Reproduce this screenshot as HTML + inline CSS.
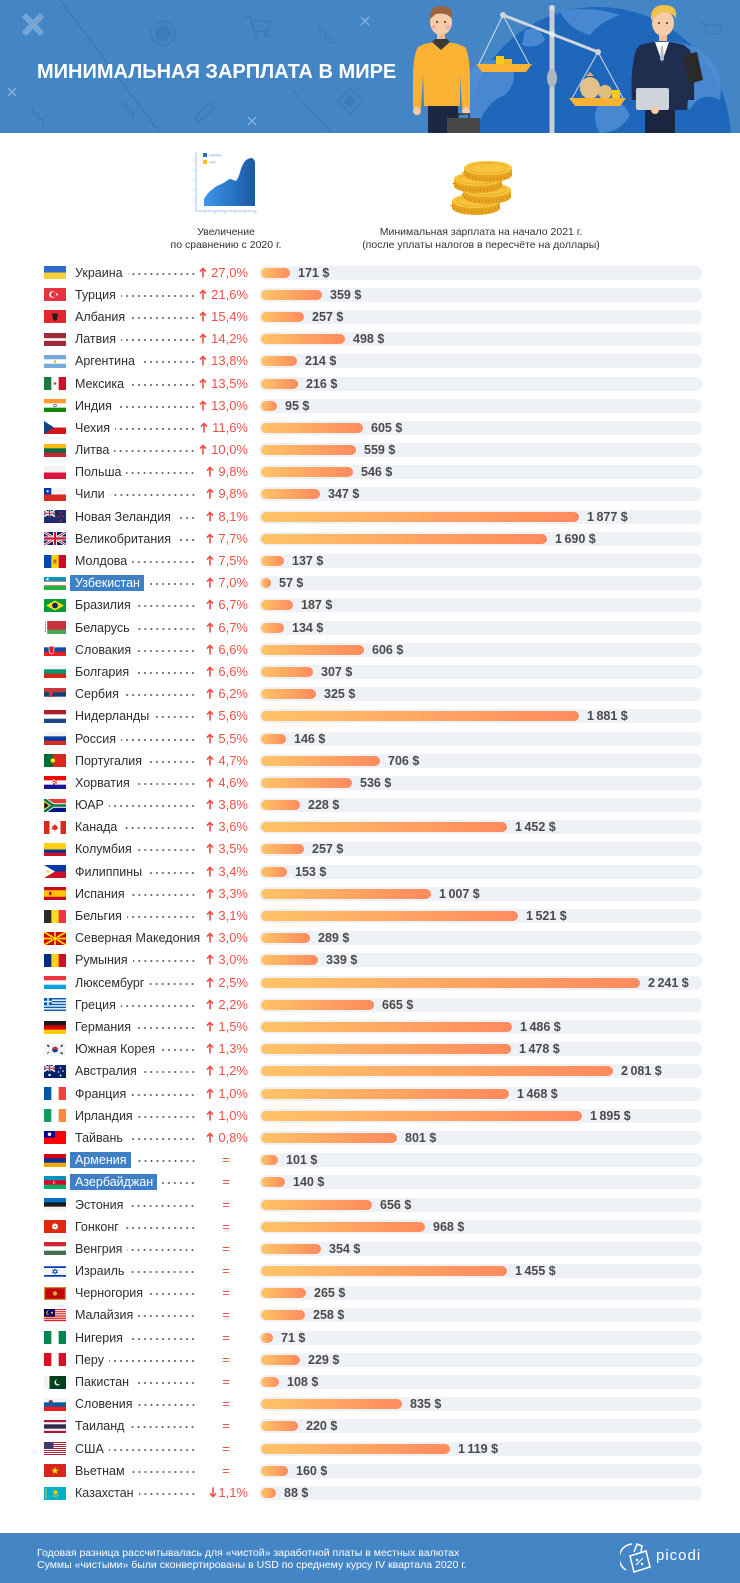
<!DOCTYPE html>
<html><head><meta charset="utf-8">
<style>
*{box-sizing:border-box}
body{margin:0;width:740px;height:1583px;position:relative;background:#fff;font-family:"Liberation Sans",Arial,sans-serif;overflow:hidden}
.r{position:absolute;left:0;width:740px;height:22px}
.f{position:absolute;left:44px;top:4.5px;width:22px;height:13px}
.n{position:absolute;left:75px;width:121px;top:0;height:22px;display:flex;align-items:center;font-size:12.5px;color:#2e2e2e;white-space:nowrap}
.n b{flex:1;height:22px;margin-left:5px;background:radial-gradient(circle at 3px 12px,#6a6a6a 0.8px,transparent 1.25px) right top/6px 22px repeat-x}
.n i{font-style:normal;background:#3f7fc6;color:#fff;padding:1px 4px 1px 5px;margin-left:-5px;line-height:14px}
.p{position:absolute;right:492px;top:0;line-height:22px;font-size:13px;color:#ef4f45;white-space:nowrap}
.p svg{width:8px;height:11px;margin-right:4px;vertical-align:-1px}
.e{position:absolute;left:216px;width:20px;top:0;line-height:22px;text-align:center;font-size:13px;color:#ef4f45}
.t{position:absolute;left:259px;top:4px;width:443px;height:14px;border-radius:7px;background:#eef1f5}
.b{position:absolute;left:261px;top:6px;height:10px;border-radius:5px;background:linear-gradient(90deg,#ffc467,#ff8a5e)}
.v{position:absolute;top:0;line-height:22px;font-size:12.5px;font-weight:bold;color:#4a4a4a;white-space:nowrap}
.sub{position:absolute;top:226px;font-size:10.5px;line-height:13px;color:#333;text-align:center}
</style></head><body>

<svg width="0" height="0" style="position:absolute">
<defs>
<symbol id="up" viewBox="0 0 8 11"><path d="M4 10.5V1.6M1 4.6L4 1.4L7 4.6" stroke="#ef4f45" stroke-width="1.6" fill="none"/></symbol>
<symbol id="dn" viewBox="0 0 8 11"><path d="M4 0.5V9.4M1 6.4L4 9.6L7 6.4" stroke="#ef4f45" stroke-width="1.6" fill="none"/></symbol>
<linearGradient id="cg" x1="0" x2="1" y1="0" y2="0"><stop offset="0" stop-color="#3d97ea"/><stop offset="1" stop-color="#1a58a3"/></linearGradient>
</defs>
</svg>

<!-- HEADER -->
<svg width="740" height="133" style="position:absolute;left:0;top:0;overflow:hidden">
<rect width="740" height="133" fill="#4485c5"/>
<g fill="none" stroke="#2f6aa8" stroke-opacity=".4" stroke-width="1.2">
<line x1="60" y1="0" x2="160" y2="133"/>
<line x1="292" y1="90" x2="332" y2="133"/>
<path d="M245 17h5l4 14h14l3-10h-19"/><circle cx="256" cy="35" r="1.5"/><circle cx="266" cy="35" r="1.5"/>
<path d="M320 25v6h5v6h5v6h5"/><path d="M33 107v6h5v6h5v6"/><path d="M123 100v6h5v6h5v6"/>
<path d="M195 118l12-14h6v6l-14 12z"/>
<path d="M350 88l13 13-13 13-13-13z"/>
<circle cx="163" cy="33" r="12"/>
<path d="M700 22h4l3 12h12l3-9h-17"/>
</g>
<path d="M350 94l7 7-7 7-7-7z" fill="#2f6aa8" fill-opacity=".3"/>
<circle cx="163" cy="33" r="8" fill="#2f6aa8" fill-opacity=".3"/>
<g stroke="#a6c6e8" stroke-opacity=".7" stroke-width="1.3">
<path d="M361 17l8 8M369 17l-8 8M8 88l8 8M16 88l-8 8M248 117l8 8M256 117l-8 8"/>
</g>
<path d="M24 15L42 34M42 15L24 34" stroke="#9fbfe3" stroke-opacity=".55" stroke-width="6"/>
<!-- globe -->
<circle cx="598" cy="140" r="133" fill="#1f67bb"/>
<g fill="#4f8ed5" fill-opacity=".85">
<path d="M470 70Q490 55 510 62Q520 80 505 95Q490 100 480 120L472 133L466 133Q462 100 470 70Z"/>
<path d="M560 12Q590 5 620 15Q600 22 590 35Q570 30 560 12Z"/>
<path d="M640 45Q670 35 700 50Q725 70 720 100Q700 90 690 110Q670 95 660 70Q645 60 640 45Z"/>
<path d="M600 100Q620 95 630 115Q620 133 600 133Q590 118 600 100Z"/>
<path d="M525 30Q540 25 545 40Q535 50 522 45Z"/>
</g>
<!-- man 1 -->
<rect x="428" y="100" width="30" height="33" fill="#1c2744"/>
<path d="M424 44Q441 40 458 44L465 47Q470 55 470 80L470 108L462 108L460 75L460 106L424 106L423 75L421 108L413 108L413 80Q413 55 418 47Z" fill="#f9b233"/>
<rect x="437" y="32" width="8" height="10" fill="#f0bd98"/>
<path d="M432 42L441 50L450 42L447 39L435 39Z" fill="#3a3a3a"/>
<ellipse cx="441" cy="22" rx="11" ry="13" fill="#f6cba9"/>
<path d="M430 19Q429 6 441 6Q454 6 452 19Q447 12 436 14Z" fill="#9a6440"/>
<circle cx="437" cy="22" r="1" fill="#333"/><circle cx="445" cy="22" r="1" fill="#333"/>
<circle cx="434" cy="27" r="2" fill="#f3a0a0" fill-opacity=".7"/><circle cx="448" cy="27" r="2" fill="#f3a0a0" fill-opacity=".7"/>
<circle cx="417" cy="111" r="4" fill="#f6cba9"/><circle cx="466" cy="111" r="4" fill="#f6cba9"/>
<path d="M458 118v-4h11v4" stroke="#333" stroke-width="1.5" fill="none"/>
<rect x="447" y="118" width="33" height="15" rx="1" fill="#474747"/>
<!-- scale -->
<rect x="549.5" y="8" width="5" height="125" fill="#c5ccd6"/>
<ellipse cx="552" cy="78" rx="5" ry="9" fill="#aeb6c2"/>
<circle cx="552" cy="8" r="3" fill="#d5dae1"/>
<line x1="503" y1="15" x2="598" y2="52" stroke="#d2d7de" stroke-width="3"/>
<circle cx="552" cy="34" r="3" fill="#e6e9ee"/>
<path d="M503 15L478 66M503 15L530 66M598 52L571 100M598 52L624 100" stroke="#dde2e8" stroke-width=".9"/>
<circle cx="503" cy="15" r="3" fill="#cfd5dd"/><circle cx="598" cy="52" r="3" fill="#cfd5dd"/>
<rect x="496" y="56" width="8" height="10" fill="#f7c81e"/><rect x="504" y="59" width="8" height="7" fill="#f3b616"/>
<path d="M476 64h56l-6 8h-44z" fill="#f9b233"/>
<ellipse cx="590" cy="88" rx="10" ry="11" fill="#e5c18a"/><path d="M586 76l4-4 4 4z" fill="#d9b070"/>
<ellipse cx="605" cy="92" rx="7" ry="7" fill="#e2bb80"/>
<rect x="612" y="90" width="8" height="9" fill="#f7c81e"/>
<path d="M569 98h57l-6 8h-45z" fill="#f9b233"/>
<!-- man 2 -->
<rect x="645" y="105" width="30" height="28" fill="#1b2540"/>
<path d="M640 45Q662 38 684 45L690 50Q695 70 694 100L688 100L687 110L640 110L638 100L632 100Q630 70 636 50Z" fill="#1f2d4f"/>
<path d="M655 42L662 62L669 42Z" fill="#fff"/><path d="M661 46h2l1 14h-4z" fill="#b9bec6"/>
<rect x="659" y="31" width="8" height="10" fill="#f0bd98"/>
<ellipse cx="663" cy="23" rx="11" ry="13" fill="#f6cba9"/>
<path d="M651 20Q650 5 664 5Q678 5 676 18Q670 10 660 13Z" fill="#f0c14b"/>
<circle cx="659" cy="23" r="1" fill="#333"/><circle cx="667" cy="23" r="1" fill="#333"/>
<path d="M683 55L697 52L703 80L689 84Z" fill="#2a2a2a"/>
<rect x="636" y="88" width="33" height="22" rx="2" fill="#cfd4da"/>
<circle cx="655" cy="110" r="4" fill="#f6cba9"/>
</svg>

<!-- ICONS -->
<svg width="740" height="90" viewBox="0 133 740 90" style="position:absolute;left:0;top:133px">
<rect x="203" y="153" width="4" height="4" fill="#2a6fc0"/><rect x="209" y="154" width="13" height="2.5" rx="1" fill="#cfe0f5"/>
<rect x="203" y="160" width="4" height="4" fill="#f8c21c"/><rect x="209" y="161" width="7" height="2.5" rx="1" fill="#cfe0f5"/>
<path d="M196 152V211H257" stroke="#c5daf2" stroke-width="1.5" fill="none"/>
<path d="M193 160h3M193 170h3M193 180h3M193 190h3M193 200h3M205 211v3M215 211v3M225 211v3M235 211v3M245 211v3M255 211v3" stroke="#c5daf2" stroke-width="1"/>
<path d="M204 206L204 199Q208 192 213 189Q216 186 219 185Q222 184 225 182L228 180Q230 178 233 180L236 181Q239 177 240 172Q242 165 245 161Q248 158 252 158Q254 159 255 162L255 206Z" fill="url(#cg)"/>
<g>
<path d="M452 201v7a24 7 0 0 0 48 0v-7z" fill="#e8a620"/><path d="M452 205a24 7 0 0 0 48 0" stroke="#d4851a" stroke-width="3" stroke-dasharray="1 2.5" fill="none"/><ellipse cx="476" cy="201" rx="24" ry="7" fill="#f8c53a"/><ellipse cx="476" cy="201" rx="19" ry="5" fill="none" stroke="#e9ae2c"/>
<path d="M463 190v7a24 7 0 0 0 48 0v-7z" fill="#e8a620"/><path d="M463 194a24 7 0 0 0 48 0" stroke="#d4851a" stroke-width="3" stroke-dasharray="1 2.5" fill="none"/><ellipse cx="487" cy="190" rx="24" ry="7" fill="#f8c53a"/><ellipse cx="487" cy="190" rx="19" ry="5" fill="none" stroke="#e9ae2c"/>
<path d="M454 179v7a24 7 0 0 0 48 0v-7z" fill="#e8a620"/><path d="M454 183a24 7 0 0 0 48 0" stroke="#d4851a" stroke-width="3" stroke-dasharray="1 2.5" fill="none"/><ellipse cx="478" cy="179" rx="24" ry="7" fill="#f8c53a"/><ellipse cx="478" cy="179" rx="19" ry="5" fill="none" stroke="#e9ae2c"/>
<path d="M464 168v7a24 7 0 0 0 48 0v-7z" fill="#e8a620"/><path d="M464 172a24 7 0 0 0 48 0" stroke="#d4851a" stroke-width="3" stroke-dasharray="1 2.5" fill="none"/><ellipse cx="488" cy="168" rx="24" ry="7" fill="#f8c53a"/><ellipse cx="488" cy="168" rx="19" ry="5" fill="none" stroke="#e9ae2c"/>
</g>
</svg>

<div style="position:absolute;left:37px;top:60px;font:bold 20px/24px 'Liberation Sans',Arial,sans-serif;color:#fff;white-space:nowrap">МИНИМАЛЬНАЯ ЗАРПЛАТА В МИРЕ</div>
<div class="sub" style="left:126px;width:200px">Увеличение<br>по сравнению с 2020 г.</div>
<div class="sub" style="left:331px;width:300px">Минимальная зарплата на начало 2021 г.<br>(после уплаты налогов в пересчёте на доллары)</div>

<!-- ROWS -->
<div class="r" style="top:261.5px"><svg class="f" viewBox="0 0 22 13"><rect width="22" height="13" fill="#f5d033"/><rect width="22" height="6.5" fill="#2f6bd0"/></svg><div class="n">Украина<b></b></div><div class="p"><svg><use href="#up"/></svg>27,0%</div><div class="t"></div><div class="b" style="width:29px"></div><div class="v" style="left:298px">171 $</div></div>

<div class="r" style="top:283.7px"><svg class="f" viewBox="0 0 22 13"><rect width="22" height="13" fill="#e4343f"/><circle cx="8.5" cy="6.5" r="3.3" fill="#fff"/><circle cx="9.4" cy="6.5" r="2.6" fill="#e4343f"/><circle cx="12.8" cy="6.5" r="1" fill="#fff"/></svg><div class="n">Турция<b></b></div><div class="p"><svg><use href="#up"/></svg>21,6%</div><div class="t"></div><div class="b" style="width:61px"></div><div class="v" style="left:330px">359 $</div></div>

<div class="r" style="top:305.9px"><svg class="f" viewBox="0 0 22 13"><rect width="22" height="13" fill="#e3262d"/><path d="M8 3.5h6l-1 6l-2 1.5l-2-1.5z" fill="#1e1e1e"/></svg><div class="n">Албания<b></b></div><div class="p"><svg><use href="#up"/></svg>15,4%</div><div class="t"></div><div class="b" style="width:43px"></div><div class="v" style="left:312px">257 $</div></div>

<div class="r" style="top:328.1px"><svg class="f" viewBox="0 0 22 13"><rect width="22" height="13" fill="#9e2b37"/><rect y="5.2" width="22" height="2.6" fill="#fff"/></svg><div class="n">Латвия<b></b></div><div class="p"><svg><use href="#up"/></svg>14,2%</div><div class="t"></div><div class="b" style="width:84px"></div><div class="v" style="left:353px">498 $</div></div>

<div class="r" style="top:350.3px"><svg class="f" viewBox="0 0 22 13"><rect width="22" height="13" fill="#75aadb"/><rect y="4.33" width="22" height="4.34" fill="#fff"/><circle cx="11" cy="6.5" r="1.3" fill="#f6b40e"/></svg><div class="n">Аргентина<b></b></div><div class="p"><svg><use href="#up"/></svg>13,8%</div><div class="t"></div><div class="b" style="width:36px"></div><div class="v" style="left:305px">214 $</div></div>

<div class="r" style="top:372.5px"><svg class="f" viewBox="0 0 22 13"><rect width="22" height="13" fill="#ce1126"/><rect width="14.67" height="13" fill="#fff"/><rect width="7.33" height="13" fill="#1b7a40"/><circle cx="11" cy="6.5" r="1.4" fill="#9b6a3c"/></svg><div class="n">Мексика<b></b></div><div class="p"><svg><use href="#up"/></svg>13,5%</div><div class="t"></div><div class="b" style="width:37px"></div><div class="v" style="left:306px">216 $</div></div>

<div class="r" style="top:394.6px"><svg class="f" viewBox="0 0 22 13"><rect width="22" height="13" fill="#138808"/><rect width="22" height="8.67" fill="#fff"/><rect width="22" height="4.33" fill="#ff9933"/><circle cx="11" cy="6.5" r="1.4" fill="none" stroke="#000080" stroke-width=".5"/></svg><div class="n">Индия<b></b></div><div class="p"><svg><use href="#up"/></svg>13,0%</div><div class="t"></div><div class="b" style="width:16px"></div><div class="v" style="left:285px">95 $</div></div>

<div class="r" style="top:416.8px"><svg class="f" viewBox="0 0 22 13"><rect width="22" height="13" fill="#d7141a"/><rect width="22" height="6.5" fill="#fff"/><path d="M0 0L10 6.5L0 13z" fill="#11457e"/></svg><div class="n">Чехия<b></b></div><div class="p"><svg><use href="#up"/></svg>11,6%</div><div class="t"></div><div class="b" style="width:102px"></div><div class="v" style="left:371px">605 $</div></div>

<div class="r" style="top:439.0px"><svg class="f" viewBox="0 0 22 13"><rect width="22" height="13" fill="#c1272d"/><rect width="22" height="8.67" fill="#006a44"/><rect width="22" height="4.33" fill="#fdb913"/></svg><div class="n">Литва<b></b></div><div class="p"><svg><use href="#up"/></svg>10,0%</div><div class="t"></div><div class="b" style="width:95px"></div><div class="v" style="left:364px">559 $</div></div>

<div class="r" style="top:461.2px"><svg class="f" viewBox="0 0 22 13"><rect width="22" height="13" fill="#dc143c"/><rect width="22" height="6.5" fill="#f2f2f2"/></svg><div class="n">Польша<b></b></div><div class="p"><svg><use href="#up"/></svg>9,8%</div><div class="t"></div><div class="b" style="width:92px"></div><div class="v" style="left:361px">546 $</div></div>

<div class="r" style="top:483.4px"><svg class="f" viewBox="0 0 22 13"><rect width="22" height="13" fill="#d52b1e"/><rect width="22" height="6.5" fill="#f4f4f4"/><rect width="7.3" height="6.5" fill="#0039a6"/><circle cx="3.65" cy="3.25" r="1.1" fill="#fff"/></svg><div class="n">Чили<b></b></div><div class="p"><svg><use href="#up"/></svg>9,8%</div><div class="t"></div><div class="b" style="width:59px"></div><div class="v" style="left:328px">347 $</div></div>

<div class="r" style="top:505.6px"><svg class="f" viewBox="0 0 22 13"><rect width="22" height="13" fill="#1c2d6e"/><path d="M0 0L11 6.5M11 0L0 6.5" stroke="#fff" stroke-width="1.4"/><path d="M5.5 0v6.5M0 3.25h11" stroke="#fff" stroke-width="2"/><path d="M5.5 0v6.5M0 3.25h11" stroke="#c8102e" stroke-width="1"/><g fill="#d0243a"><circle cx="16.5" cy="3" r=".9"/><circle cx="19" cy="6" r=".9"/><circle cx="14.5" cy="7" r=".9"/><circle cx="16.5" cy="10.5" r="1"/></g></svg><div class="n">Новая Зеландия<b></b></div><div class="p"><svg><use href="#up"/></svg>8,1%</div><div class="t"></div><div class="b" style="width:318px"></div><div class="v" style="left:587px">1&thinsp;877 $</div></div>

<div class="r" style="top:527.8px"><svg class="f" viewBox="0 0 22 13"><rect width="22" height="13" fill="#012169"/><path d="M0 0L22 13M22 0L0 13" stroke="#fff" stroke-width="2.6"/><path d="M0 0L22 13M22 0L0 13" stroke="#c8102e" stroke-width=".9"/><path d="M11 0v13M0 6.5h22" stroke="#fff" stroke-width="4"/><path d="M11 0v13M0 6.5h22" stroke="#c8102e" stroke-width="2.2"/></svg><div class="n">Великобритания<b></b></div><div class="p"><svg><use href="#up"/></svg>7,7%</div><div class="t"></div><div class="b" style="width:286px"></div><div class="v" style="left:555px">1&thinsp;690 $</div></div>

<div class="r" style="top:550.0px"><svg class="f" viewBox="0 0 22 13"><rect width="22" height="13" fill="#cc092f"/><rect width="14.67" height="13" fill="#ffd200"/><rect width="7.33" height="13" fill="#0046ae"/><rect x="9.5" y="4.5" width="3" height="4" fill="#a8703b"/></svg><div class="n">Молдова<b></b></div><div class="p"><svg><use href="#up"/></svg>7,5%</div><div class="t"></div><div class="b" style="width:23px"></div><div class="v" style="left:292px">137 $</div></div>

<div class="r" style="top:572.2px"><svg class="f" viewBox="0 0 22 13"><rect width="22" height="13" fill="#1eb53a"/><rect width="22" height="8.67" fill="#fff"/><rect width="22" height="4.33" fill="#0099b5"/><rect y="4.1" width="22" height=".5" fill="#ce1126"/><rect y="8.4" width="22" height=".5" fill="#ce1126"/><circle cx="3.5" cy="2.2" r="1.2" fill="#fff"/></svg><div class="n"><i>Узбекистан</i><b></b></div><div class="p"><svg><use href="#up"/></svg>7,0%</div><div class="t"></div><div class="b" style="width:10px"></div><div class="v" style="left:279px">57 $</div></div>

<div class="r" style="top:594.4px"><svg class="f" viewBox="0 0 22 13"><rect width="22" height="13" fill="#009c3b"/><path d="M11 1.5L20 6.5L11 11.5L2 6.5z" fill="#ffdf00"/><circle cx="11" cy="6.5" r="2.9" fill="#002776"/></svg><div class="n">Бразилия<b></b></div><div class="p"><svg><use href="#up"/></svg>6,7%</div><div class="t"></div><div class="b" style="width:32px"></div><div class="v" style="left:301px">187 $</div></div>

<div class="r" style="top:616.5px"><svg class="f" viewBox="0 0 22 13"><rect width="22" height="13" fill="#4aa657"/><rect width="22" height="8.67" fill="#c8313e"/><rect width="3.2" height="13" fill="#fff"/><path d="M1.6 1v11" stroke="#c8313e" stroke-width="1" stroke-dasharray="1.2 1"/></svg><div class="n">Беларусь<b></b></div><div class="p"><svg><use href="#up"/></svg>6,7%</div><div class="t"></div><div class="b" style="width:23px"></div><div class="v" style="left:292px">134 $</div></div>

<div class="r" style="top:638.7px"><svg class="f" viewBox="0 0 22 13"><rect width="22" height="13" fill="#ee1c25"/><rect width="22" height="8.67" fill="#0b4ea2"/><rect width="22" height="4.33" fill="#fff"/><path d="M5 3.2h5v4.5q0 2.5-2.5 3.3q-2.5-.8-2.5-3.3z" fill="#ee1c25" stroke="#fff" stroke-width=".6"/></svg><div class="n">Словакия<b></b></div><div class="p"><svg><use href="#up"/></svg>6,6%</div><div class="t"></div><div class="b" style="width:103px"></div><div class="v" style="left:372px">606 $</div></div>

<div class="r" style="top:660.9px"><svg class="f" viewBox="0 0 22 13"><rect width="22" height="13" fill="#d62612"/><rect width="22" height="8.67" fill="#00966e"/><rect width="22" height="4.33" fill="#f4f4f4"/></svg><div class="n">Болгария<b></b></div><div class="p"><svg><use href="#up"/></svg>6,6%</div><div class="t"></div><div class="b" style="width:52px"></div><div class="v" style="left:321px">307 $</div></div>

<div class="r" style="top:683.1px"><svg class="f" viewBox="0 0 22 13"><rect width="22" height="13" fill="#f4f4f4"/><rect width="22" height="8.67" fill="#0c4076"/><rect width="22" height="4.33" fill="#c6363c"/><rect x="5" y="3" width="3.5" height="6" fill="#c6363c"/></svg><div class="n">Сербия<b></b></div><div class="p"><svg><use href="#up"/></svg>6,2%</div><div class="t"></div><div class="b" style="width:55px"></div><div class="v" style="left:324px">325 $</div></div>

<div class="r" style="top:705.3px"><svg class="f" viewBox="0 0 22 13"><rect width="22" height="13" fill="#21468b"/><rect width="22" height="8.67" fill="#fff"/><rect width="22" height="4.33" fill="#ae1c28"/></svg><div class="n">Нидерланды<b></b></div><div class="p"><svg><use href="#up"/></svg>5,6%</div><div class="t"></div><div class="b" style="width:318px"></div><div class="v" style="left:587px">1&thinsp;881 $</div></div>

<div class="r" style="top:727.5px"><svg class="f" viewBox="0 0 22 13"><rect width="22" height="13" fill="#d52b1e"/><rect width="22" height="8.67" fill="#0039a6"/><rect width="22" height="4.33" fill="#f4f4f4"/></svg><div class="n">Россия<b></b></div><div class="p"><svg><use href="#up"/></svg>5,5%</div><div class="t"></div><div class="b" style="width:25px"></div><div class="v" style="left:294px">146 $</div></div>

<div class="r" style="top:749.7px"><svg class="f" viewBox="0 0 22 13"><rect width="22" height="13" fill="#da291c"/><rect width="8.8" height="13" fill="#046a38"/><circle cx="8.8" cy="6.5" r="2.3" fill="#ffe000"/></svg><div class="n">Португалия<b></b></div><div class="p"><svg><use href="#up"/></svg>4,7%</div><div class="t"></div><div class="b" style="width:119px"></div><div class="v" style="left:388px">706 $</div></div>

<div class="r" style="top:771.9px"><svg class="f" viewBox="0 0 22 13"><rect width="22" height="13" fill="#171796"/><rect width="22" height="8.67" fill="#fff"/><rect width="22" height="4.33" fill="#ff0000"/><rect x="9" y="3.5" width="4" height="5" fill="#ff0000"/><path d="M9 3.5h2v1.25h-2zM11 4.75h2v1.25h-2zM9 6h2v1.25h-2zM11 7.25h2v1.25h-2z" fill="#fff"/></svg><div class="n">Хорватия<b></b></div><div class="p"><svg><use href="#up"/></svg>4,6%</div><div class="t"></div><div class="b" style="width:91px"></div><div class="v" style="left:360px">536 $</div></div>

<div class="r" style="top:794.1px"><svg class="f" viewBox="0 0 22 13"><rect width="22" height="13" fill="#001489"/><rect width="22" height="6.5" fill="#e03c31"/><path d="M0 0L9 6.5H22M9 6.5L0 13" stroke="#fff" stroke-width="4.4" fill="none"/><path d="M0 0L9 6.5H22M9 6.5L0 13" stroke="#007749" stroke-width="2.6" fill="none"/><path d="M0 2.6L5.4 6.5L0 10.4z" fill="#000" stroke="#ffb612" stroke-width=".8"/></svg><div class="n">ЮАР<b></b></div><div class="p"><svg><use href="#up"/></svg>3,8%</div><div class="t"></div><div class="b" style="width:39px"></div><div class="v" style="left:308px">228 $</div></div>

<div class="r" style="top:816.3px"><svg class="f" viewBox="0 0 22 13"><rect width="22" height="13" fill="#d52b1e"/><rect x="5.5" width="11" height="13" fill="#fff"/><path d="M11 3l1 2 1.5-.5-.5 2.5 1.2-.3-.7 1.5-2.5.8v1.5h-.4v-1.5l-2.5-.8-.7-1.5 1.2.3-.5-2.5 1.5.5z" fill="#d52b1e"/></svg><div class="n">Канада<b></b></div><div class="p"><svg><use href="#up"/></svg>3,6%</div><div class="t"></div><div class="b" style="width:246px"></div><div class="v" style="left:515px">1&thinsp;452 $</div></div>

<div class="r" style="top:838.4px"><svg class="f" viewBox="0 0 22 13"><rect width="22" height="13" fill="#ce1126"/><rect width="22" height="9.75" fill="#003893"/><rect width="22" height="6.5" fill="#fcd116"/></svg><div class="n">Колумбия<b></b></div><div class="p"><svg><use href="#up"/></svg>3,5%</div><div class="t"></div><div class="b" style="width:43px"></div><div class="v" style="left:312px">257 $</div></div>

<div class="r" style="top:860.6px"><svg class="f" viewBox="0 0 22 13"><rect width="22" height="13" fill="#ce1126"/><rect width="22" height="6.5" fill="#0038a8"/><path d="M0 0L11 6.5L0 13z" fill="#fff"/><circle cx="3.8" cy="6.5" r="1.3" fill="#fcd116"/></svg><div class="n">Филиппины<b></b></div><div class="p"><svg><use href="#up"/></svg>3,4%</div><div class="t"></div><div class="b" style="width:26px"></div><div class="v" style="left:295px">153 $</div></div>

<div class="r" style="top:882.8px"><svg class="f" viewBox="0 0 22 13"><rect width="22" height="13" fill="#c60b1e"/><rect y="3.25" width="22" height="6.5" fill="#ffc400"/><rect x="5" y="4.8" width="2.5" height="3.4" fill="#ad1519"/></svg><div class="n">Испания<b></b></div><div class="p"><svg><use href="#up"/></svg>3,3%</div><div class="t"></div><div class="b" style="width:170px"></div><div class="v" style="left:439px">1&thinsp;007 $</div></div>

<div class="r" style="top:905.0px"><svg class="f" viewBox="0 0 22 13"><rect width="22" height="13" fill="#ef3340"/><rect width="14.67" height="13" fill="#fdda24"/><rect width="7.33" height="13" fill="#2a2a2a"/></svg><div class="n">Бельгия<b></b></div><div class="p"><svg><use href="#up"/></svg>3,1%</div><div class="t"></div><div class="b" style="width:257px"></div><div class="v" style="left:526px">1&thinsp;521 $</div></div>

<div class="r" style="top:927.2px"><svg class="f" viewBox="0 0 22 13"><rect width="22" height="13" fill="#d20000"/><path d="M0 0L22 13M22 0L0 13M11 0v13M0 6.5h22" stroke="#ffe600" stroke-width="1.8"/><circle cx="11" cy="6.5" r="2.4" fill="#ffe600" stroke="#d20000" stroke-width=".6"/></svg><div class="n">Северная Македония<b></b></div><div class="p"><svg><use href="#up"/></svg>3,0%</div><div class="t"></div><div class="b" style="width:49px"></div><div class="v" style="left:318px">289 $</div></div>

<div class="r" style="top:949.4px"><svg class="f" viewBox="0 0 22 13"><rect width="22" height="13" fill="#ce1126"/><rect width="14.67" height="13" fill="#fcd116"/><rect width="7.33" height="13" fill="#002b7f"/></svg><div class="n">Румыния<b></b></div><div class="p"><svg><use href="#up"/></svg>3,0%</div><div class="t"></div><div class="b" style="width:57px"></div><div class="v" style="left:326px">339 $</div></div>

<div class="r" style="top:971.6px"><svg class="f" viewBox="0 0 22 13"><rect width="22" height="13" fill="#00a2e1"/><rect width="22" height="8.67" fill="#fff"/><rect width="22" height="4.33" fill="#ef3340"/></svg><div class="n">Люксембург<b></b></div><div class="p"><svg><use href="#up"/></svg>2,5%</div><div class="t"></div><div class="b" style="width:379px"></div><div class="v" style="left:648px">2&thinsp;241 $</div></div>

<div class="r" style="top:993.8px"><svg class="f" viewBox="0 0 22 13"><rect width="22" height="13" fill="#0d5eaf"/><path d="M0 2.17h22M0 5.06h22M0 7.94h22M0 10.83h22" stroke="#fff" stroke-width="1.44"/><rect width="8" height="7.2" fill="#0d5eaf"/><path d="M4 0v7.2M0 3.6h8" stroke="#fff" stroke-width="1.4"/></svg><div class="n">Греция<b></b></div><div class="p"><svg><use href="#up"/></svg>2,2%</div><div class="t"></div><div class="b" style="width:113px"></div><div class="v" style="left:382px">665 $</div></div>

<div class="r" style="top:1016.0px"><svg class="f" viewBox="0 0 22 13"><rect width="22" height="13" fill="#ffce00"/><rect width="22" height="8.67" fill="#dd0000"/><rect width="22" height="4.33" fill="#1a1a1a"/></svg><div class="n">Германия<b></b></div><div class="p"><svg><use href="#up"/></svg>1,5%</div><div class="t"></div><div class="b" style="width:251px"></div><div class="v" style="left:520px">1&thinsp;486 $</div></div>

<div class="r" style="top:1038.2px"><svg class="f" viewBox="0 0 22 13"><rect width="22" height="13" fill="#f6f6f6"/><path d="M8 6.5a3 3 0 0 1 6 0z" fill="#cd2e3a"/><path d="M8 6.5a3 3 0 0 0 6 0z" fill="#0047a0"/><path d="M3 2.5l2 1.5M3.5 1.8l2 1.5M16.5 3.3l2-1.5M17 4l2-1.5M3 10.5l2-1.5M16.5 9.7l2 1.5M17 9l2 1.5" stroke="#000" stroke-width=".6"/></svg><div class="n">Южная Корея<b></b></div><div class="p"><svg><use href="#up"/></svg>1,3%</div><div class="t"></div><div class="b" style="width:250px"></div><div class="v" style="left:519px">1&thinsp;478 $</div></div>

<div class="r" style="top:1060.3px"><svg class="f" viewBox="0 0 22 13"><rect width="22" height="13" fill="#012169"/><path d="M0 0L11 6.5M11 0L0 6.5" stroke="#fff" stroke-width="1.4"/><path d="M5.5 0v6.5M0 3.25h11" stroke="#fff" stroke-width="2"/><path d="M5.5 0v6.5M0 3.25h11" stroke="#c8102e" stroke-width="1"/><g fill="#fff"><circle cx="16.5" cy="3" r=".8"/><circle cx="19" cy="6" r=".8"/><circle cx="14.5" cy="7" r=".8"/><circle cx="16.5" cy="10.5" r=".9"/><circle cx="5.5" cy="10" r="1.2"/></g></svg><div class="n">Австралия<b></b></div><div class="p"><svg><use href="#up"/></svg>1,2%</div><div class="t"></div><div class="b" style="width:352px"></div><div class="v" style="left:621px">2&thinsp;081 $</div></div>

<div class="r" style="top:1082.5px"><svg class="f" viewBox="0 0 22 13"><rect width="22" height="13" fill="#ef4135"/><rect width="14.67" height="13" fill="#fff"/><rect width="7.33" height="13" fill="#0055a4"/></svg><div class="n">Франция<b></b></div><div class="p"><svg><use href="#up"/></svg>1,0%</div><div class="t"></div><div class="b" style="width:248px"></div><div class="v" style="left:517px">1&thinsp;468 $</div></div>

<div class="r" style="top:1104.7px"><svg class="f" viewBox="0 0 22 13"><rect width="22" height="13" fill="#ff883e"/><rect width="14.67" height="13" fill="#fff"/><rect width="7.33" height="13" fill="#169b62"/></svg><div class="n">Ирландия<b></b></div><div class="p"><svg><use href="#up"/></svg>1,0%</div><div class="t"></div><div class="b" style="width:321px"></div><div class="v" style="left:590px">1&thinsp;895 $</div></div>

<div class="r" style="top:1126.9px"><svg class="f" viewBox="0 0 22 13"><rect width="22" height="13" fill="#fe0000"/><rect width="11" height="6.5" fill="#000095"/><circle cx="5.5" cy="3.25" r="1.8" fill="#fff"/></svg><div class="n">Тайвань<b></b></div><div class="p"><svg><use href="#up"/></svg>0,8%</div><div class="t"></div><div class="b" style="width:136px"></div><div class="v" style="left:405px">801 $</div></div>

<div class="r" style="top:1149.1px"><svg class="f" viewBox="0 0 22 13"><rect width="22" height="13" fill="#f2a800"/><rect width="22" height="8.67" fill="#0033a0"/><rect width="22" height="4.33" fill="#d90012"/></svg><div class="n"><i>Армения</i><b></b></div><div class="e">=</div><div class="t"></div><div class="b" style="width:17px"></div><div class="v" style="left:286px">101 $</div></div>

<div class="r" style="top:1171.3px"><svg class="f" viewBox="0 0 22 13"><rect width="22" height="13" fill="#00af66"/><rect width="22" height="8.67" fill="#e4002b"/><rect width="22" height="4.33" fill="#0092bc"/><circle cx="10.5" cy="6.5" r="1.5" fill="#fff"/><circle cx="11" cy="6.5" r="1.2" fill="#e4002b"/></svg><div class="n"><i>Азербайджан</i><b></b></div><div class="e">=</div><div class="t"></div><div class="b" style="width:24px"></div><div class="v" style="left:293px">140 $</div></div>

<div class="r" style="top:1193.5px"><svg class="f" viewBox="0 0 22 13"><rect width="22" height="13" fill="#f4f4f4"/><rect width="22" height="8.67" fill="#1a1a1a"/><rect width="22" height="4.33" fill="#0072ce"/></svg><div class="n">Эстония<b></b></div><div class="e">=</div><div class="t"></div><div class="b" style="width:111px"></div><div class="v" style="left:380px">656 $</div></div>

<div class="r" style="top:1215.7px"><svg class="f" viewBox="0 0 22 13"><rect width="22" height="13" fill="#de2910"/><circle cx="11" cy="6.5" r="3" fill="#fff"/><circle cx="11" cy="6.5" r=".8" fill="#de2910"/></svg><div class="n">Гонконг<b></b></div><div class="e">=</div><div class="t"></div><div class="b" style="width:164px"></div><div class="v" style="left:433px">968 $</div></div>

<div class="r" style="top:1237.9px"><svg class="f" viewBox="0 0 22 13"><rect width="22" height="13" fill="#477050"/><rect width="22" height="8.67" fill="#fff"/><rect width="22" height="4.33" fill="#ce2939"/></svg><div class="n">Венгрия<b></b></div><div class="e">=</div><div class="t"></div><div class="b" style="width:60px"></div><div class="v" style="left:329px">354 $</div></div>

<div class="r" style="top:1260.1px"><svg class="f" viewBox="0 0 22 13"><rect width="22" height="13" fill="#f6f6f6"/><rect y="1.3" width="22" height="1.7" fill="#0038b8"/><rect y="10" width="22" height="1.7" fill="#0038b8"/><path d="M11 3.8l2.4 4h-4.8zM11 9.2l2.4-4h-4.8z" fill="none" stroke="#0038b8" stroke-width=".6"/></svg><div class="n">Израиль<b></b></div><div class="e">=</div><div class="t"></div><div class="b" style="width:246px"></div><div class="v" style="left:515px">1&thinsp;455 $</div></div>

<div class="r" style="top:1282.2px"><svg class="f" viewBox="0 0 22 13"><rect width="22" height="13" fill="#c40308"/><rect x=".7" y=".7" width="20.6" height="11.6" fill="none" stroke="#d3ae3b" stroke-width="1"/><circle cx="11" cy="6.5" r="2.2" fill="#d3ae3b"/></svg><div class="n">Черногория<b></b></div><div class="e">=</div><div class="t"></div><div class="b" style="width:45px"></div><div class="v" style="left:314px">265 $</div></div>

<div class="r" style="top:1304.4px"><svg class="f" viewBox="0 0 22 13"><rect width="22" height="13" fill="#fff"/><path d="M0 .46h22M0 2.32h22M0 4.18h22M0 6.04h22M0 7.9h22M0 9.76h22M0 11.62h22" stroke="#cc0001" stroke-width=".93"/><rect width="11" height="7.4" fill="#010066"/><circle cx="4.5" cy="3.7" r="2.3" fill="#fc0"/><circle cx="5.2" cy="3.7" r="1.9" fill="#010066"/><circle cx="8" cy="3.7" r="1.1" fill="#fc0"/></svg><div class="n">Малайзия<b></b></div><div class="e">=</div><div class="t"></div><div class="b" style="width:44px"></div><div class="v" style="left:313px">258 $</div></div>

<div class="r" style="top:1326.6px"><svg class="f" viewBox="0 0 22 13"><rect width="22" height="13" fill="#008751"/><rect x="7.33" width="7.34" height="13" fill="#fff"/></svg><div class="n">Нигерия<b></b></div><div class="e">=</div><div class="t"></div><div class="b" style="width:12px"></div><div class="v" style="left:281px">71 $</div></div>

<div class="r" style="top:1348.8px"><svg class="f" viewBox="0 0 22 13"><rect width="22" height="13" fill="#d91023"/><rect x="7.33" width="7.34" height="13" fill="#fff"/></svg><div class="n">Перу<b></b></div><div class="e">=</div><div class="t"></div><div class="b" style="width:39px"></div><div class="v" style="left:308px">229 $</div></div>

<div class="r" style="top:1371.0px"><svg class="f" viewBox="0 0 22 13"><rect width="22" height="13" fill="#01411c"/><rect width="5.5" height="13" fill="#f4f4f4"/><circle cx="13.5" cy="6.5" r="3" fill="#fff"/><circle cx="14.5" cy="5.8" r="2.6" fill="#01411c"/></svg><div class="n">Пакистан<b></b></div><div class="e">=</div><div class="t"></div><div class="b" style="width:18px"></div><div class="v" style="left:287px">108 $</div></div>

<div class="r" style="top:1393.2px"><svg class="f" viewBox="0 0 22 13"><rect width="22" height="13" fill="#ed1c24"/><rect width="22" height="8.67" fill="#005da4"/><rect width="22" height="4.33" fill="#f4f4f4"/><path d="M5 2.5h3.5v2.5q0 2-1.75 2.8q-1.75-.8-1.75-2.8z" fill="#005da4" stroke="#ed1c24" stroke-width=".4"/></svg><div class="n">Словения<b></b></div><div class="e">=</div><div class="t"></div><div class="b" style="width:141px"></div><div class="v" style="left:410px">835 $</div></div>

<div class="r" style="top:1415.4px"><svg class="f" viewBox="0 0 22 13"><rect width="22" height="13" fill="#a51931"/><rect y="2.17" width="22" height="8.66" fill="#f4f5f8"/><rect y="4.33" width="22" height="4.34" fill="#2d2a4a"/></svg><div class="n">Таиланд<b></b></div><div class="e">=</div><div class="t"></div><div class="b" style="width:37px"></div><div class="v" style="left:306px">220 $</div></div>

<div class="r" style="top:1437.6px"><svg class="f" viewBox="0 0 22 13"><rect width="22" height="13" fill="#fff"/><path d="M0 .5h22M0 2.5h22M0 4.5h22M0 6.5h22M0 8.5h22M0 10.5h22M0 12.5h22" stroke="#b22234" stroke-width="1"/><rect width="9.5" height="7" fill="#3c3b6e"/></svg><div class="n">США<b></b></div><div class="e">=</div><div class="t"></div><div class="b" style="width:189px"></div><div class="v" style="left:458px">1&thinsp;119 $</div></div>

<div class="r" style="top:1459.8px"><svg class="f" viewBox="0 0 22 13"><rect width="22" height="13" fill="#da251d"/><path d="M11 3l.9 2.6h2.7l-2.2 1.6.8 2.6-2.2-1.6-2.2 1.6.8-2.6-2.2-1.6h2.7z" fill="#ff0"/></svg><div class="n">Вьетнам<b></b></div><div class="e">=</div><div class="t"></div><div class="b" style="width:27px"></div><div class="v" style="left:296px">160 $</div></div>

<div class="r" style="top:1482.0px"><svg class="f" viewBox="0 0 22 13"><rect width="22" height="13" fill="#00afca"/><circle cx="11.5" cy="5.5" r="2.2" fill="#fec50c"/><path d="M8.5 8.5q3 1.5 6 0" stroke="#fec50c" stroke-width=".8" fill="none"/><rect x="1.5" y="1" width=".9" height="11" fill="#fec50c"/></svg><div class="n">Казахстан<b></b></div><div class="p"><svg style="margin-right:1px"><use href="#dn"/></svg>1,1%</div><div class="t"></div><div class="b" style="width:15px"></div><div class="v" style="left:284px">88 $</div></div>

<!-- FOOTER -->
<div style="position:absolute;left:0;top:1533px;width:740px;height:50px;background:#4485c5">
<div style="position:absolute;left:37px;top:14px;font-size:10.5px;line-height:12px;color:#fff;white-space:nowrap">Годовая разница рассчитывалась для «чистой» заработной платы в местных валютах<br>Суммы «чистыми» были сконвертированы в USD по среднему курсу IV квартала 2020 г.</div>
<svg width="36" height="40" style="position:absolute;left:620px;top:5px" viewBox="0 0 36 40">
<path d="M12 6a14 14 0 0 0 -6 26" stroke="#fff" stroke-width="1.5" fill="none"/>
<path d="M10 18l16-5 4 16-16 5z" fill="none" stroke="#fff" stroke-width="1.5"/>
<path d="M14 14l3-8 5 2-1 6" fill="none" stroke="#fff" stroke-width="1.5"/>
<circle cx="17" cy="22" r="1.2" fill="#fff"/><circle cx="22" cy="26" r="1.2" fill="#fff"/><path d="M16 27l7-7" stroke="#fff" stroke-width="1"/>
</svg>
<div style="position:absolute;left:656px;top:14px;font-size:15px;line-height:18px;color:#fff;letter-spacing:1px">picodi</div>
</div>

</body></html>
